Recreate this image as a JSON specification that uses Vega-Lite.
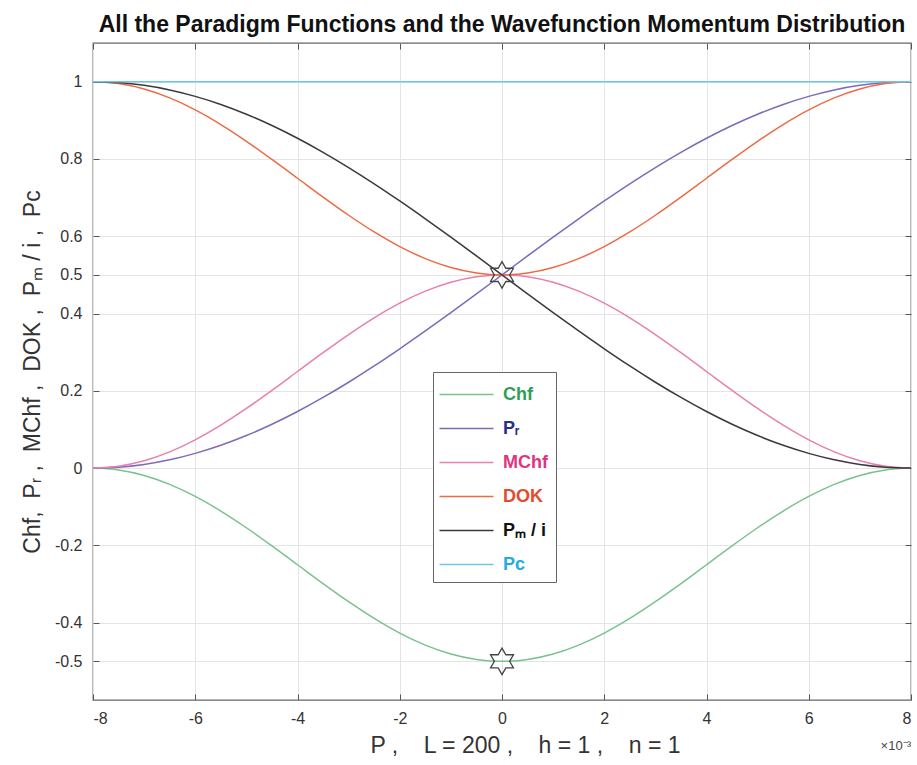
{
  "$schema": "https://vega.github.io/schema/vega-lite/v6.json",
  "width": 818,
  "height": 657,
  "autosize": {"type": "none"},
  "padding": {"left": 93, "top": 43, "right": 6, "bottom": 65},
  "background": "white",
  "title": {
    "text": "All the Paradigm Functions and the Wavefunction Momentum Distribution",
    "fontSize": 23,
    "fontWeight": "bold",
    "font": "Liberation Sans",
    "color": "#111111",
    "anchor": "middle",
    "offset": 6
  },
  "config": {
    "font": "Liberation Sans",
    "view": {"stroke": "#666666", "strokeWidth": 1.3},
    "axis": {
      "domain": false,
      "gridColor": "#e4e4e4",
      "gridWidth": 1,
      "tickColor": "#555555",
      "tickSize": -6,
      "labelFontSize": 16,
      "labelColor": "#333333",
      "titleFontSize": 23,
      "titleFontWeight": "normal",
      "titleColor": "#333333"
    }
  },
  "datasets": {
    "curves": [
      {"P":-0.008,"Chf":0,"Pr":0,"MChf":0,"DOK":1,"Pm":1,"Pc":1},
      {"P":-0.0075,"Chf":-0.0048,"Pr":0.0024,"MChf":0.0048,"DOK":0.9952,"Pm":0.9976,"Pc":1},
      {"P":-0.007,"Chf":-0.019,"Pr":0.0096,"MChf":0.019,"DOK":0.981,"Pm":0.9904,"Pc":1},
      {"P":-0.0065,"Chf":-0.0421,"Pr":0.0215,"MChf":0.0421,"DOK":0.9579,"Pm":0.9785,"Pc":1},
      {"P":-0.006,"Chf":-0.0732,"Pr":0.0381,"MChf":0.0732,"DOK":0.9268,"Pm":0.9619,"Pc":1},
      {"P":-0.0055,"Chf":-0.1111,"Pr":0.059,"MChf":0.1111,"DOK":0.8889,"Pm":0.941,"Pc":1},
      {"P":-0.005,"Chf":-0.1543,"Pr":0.0843,"MChf":0.1543,"DOK":0.8457,"Pm":0.9157,"Pc":1},
      {"P":-0.0045,"Chf":-0.2012,"Pr":0.1135,"MChf":0.2012,"DOK":0.7988,"Pm":0.8865,"Pc":1},
      {"P":-0.004,"Chf":-0.25,"Pr":0.1464,"MChf":0.25,"DOK":0.75,"Pm":0.8536,"Pc":1},
      {"P":-0.0035,"Chf":-0.2988,"Pr":0.1828,"MChf":0.2988,"DOK":0.7012,"Pm":0.8172,"Pc":1},
      {"P":-0.003,"Chf":-0.3457,"Pr":0.2222,"MChf":0.3457,"DOK":0.6543,"Pm":0.7778,"Pc":1},
      {"P":-0.0025,"Chf":-0.3889,"Pr":0.2643,"MChf":0.3889,"DOK":0.6111,"Pm":0.7357,"Pc":1},
      {"P":-0.002,"Chf":-0.4268,"Pr":0.3087,"MChf":0.4268,"DOK":0.5732,"Pm":0.6913,"Pc":1},
      {"P":-0.0015,"Chf":-0.4579,"Pr":0.3549,"MChf":0.4579,"DOK":0.5421,"Pm":0.6451,"Pc":1},
      {"P":-0.001,"Chf":-0.481,"Pr":0.4025,"MChf":0.481,"DOK":0.519,"Pm":0.5975,"Pc":1},
      {"P":-0.0005,"Chf":-0.4952,"Pr":0.451,"MChf":0.4952,"DOK":0.5048,"Pm":0.549,"Pc":1},
      {"P":0,"Chf":-0.5,"Pr":0.5,"MChf":0.5,"DOK":0.5,"Pm":0.5,"Pc":1},
      {"P":0.0005,"Chf":-0.4952,"Pr":0.549,"MChf":0.4952,"DOK":0.5048,"Pm":0.451,"Pc":1},
      {"P":0.001,"Chf":-0.481,"Pr":0.5975,"MChf":0.481,"DOK":0.519,"Pm":0.4025,"Pc":1},
      {"P":0.0015,"Chf":-0.4579,"Pr":0.6451,"MChf":0.4579,"DOK":0.5421,"Pm":0.3549,"Pc":1},
      {"P":0.002,"Chf":-0.4268,"Pr":0.6913,"MChf":0.4268,"DOK":0.5732,"Pm":0.3087,"Pc":1},
      {"P":0.0025,"Chf":-0.3889,"Pr":0.7357,"MChf":0.3889,"DOK":0.6111,"Pm":0.2643,"Pc":1},
      {"P":0.003,"Chf":-0.3457,"Pr":0.7778,"MChf":0.3457,"DOK":0.6543,"Pm":0.2222,"Pc":1},
      {"P":0.0035,"Chf":-0.2988,"Pr":0.8172,"MChf":0.2988,"DOK":0.7012,"Pm":0.1828,"Pc":1},
      {"P":0.004,"Chf":-0.25,"Pr":0.8536,"MChf":0.25,"DOK":0.75,"Pm":0.1464,"Pc":1},
      {"P":0.0045,"Chf":-0.2012,"Pr":0.8865,"MChf":0.2012,"DOK":0.7988,"Pm":0.1135,"Pc":1},
      {"P":0.005,"Chf":-0.1543,"Pr":0.9157,"MChf":0.1543,"DOK":0.8457,"Pm":0.0843,"Pc":1},
      {"P":0.0055,"Chf":-0.1111,"Pr":0.941,"MChf":0.1111,"DOK":0.8889,"Pm":0.059,"Pc":1},
      {"P":0.006,"Chf":-0.0732,"Pr":0.9619,"MChf":0.0732,"DOK":0.9268,"Pm":0.0381,"Pc":1},
      {"P":0.0065,"Chf":-0.0421,"Pr":0.9785,"MChf":0.0421,"DOK":0.9579,"Pm":0.0215,"Pc":1},
      {"P":0.007,"Chf":-0.019,"Pr":0.9904,"MChf":0.019,"DOK":0.981,"Pm":0.0096,"Pc":1},
      {"P":0.0075,"Chf":-0.0048,"Pr":0.9976,"MChf":0.0048,"DOK":0.9952,"Pm":0.0024,"Pc":1},
      {"P":0.008,"Chf":0,"Pr":1,"MChf":0,"DOK":1,"Pm":0,"Pc":1}
    ],
    "stars": [
      {"P": 0, "v": 0.5},
      {"P": 0, "v": -0.5}
    ],
    "note": [
      {"t": "×10⁻³"}
    ]
  },
  "layer": [
    {
      "data": {"name": "curves"},
      "transform": [
        {"fold": ["Chf", "Pr", "MChf", "DOK", "Pm", "Pc"], "as": ["series", "value"]}
      ],
      "mark": {"type": "line", "strokeWidth": 1.5, "interpolate": "monotone"},
      "encoding": {
        "x": {
          "field": "P",
          "type": "quantitative",
          "scale": {"domain": [-0.008, 0.008], "nice": false, "zero": false},
          "axis": {
            "values": [-0.008, -0.006, -0.004, -0.002, 0, 0.002, 0.004, 0.006, 0.008],
            "labelExpr": "'' + round(datum.value * 1000)",
            "grid": true,
            "labelPadding": 16,
            "title": "P ,\u00a0\u00a0\u00a0 L = 200 ,\u00a0\u00a0\u00a0 h = 1 ,\u00a0\u00a0\u00a0 n = 1",
            "titleX": 432,
            "titlePadding": 8
          }
        },
        "y": {
          "field": "value",
          "type": "quantitative",
          "scale": {"domain": [-0.6, 1.1], "nice": false, "zero": false},
          "axis": {
            "values": [-0.5, -0.4, -0.2, 0, 0.2, 0.4, 0.5, 0.6, 0.8, 1],
            "labelExpr": "'' + datum.value",
            "grid": true,
            "labelPadding": 17,
            "title": "Chf,\u00a0 Pᵣ ,\u00a0 MChf ,\u00a0 DOK ,\u00a0 Pₘ / i ,\u00a0 Pc",
            "titlePadding": 10
          }
        },
        "color": {
          "field": "series",
          "type": "nominal",
          "scale": {
            "domain": ["Chf", "Pr", "MChf", "DOK", "Pm", "Pc"],
            "range": ["#79c28e", "#7d6bb8", "#e87fb0", "#ec6a45", "#3a3a3a", "#6cc7ef"]
          },
          "legend": {
            "orient": "none",
            "legendX": 340,
            "legendY": 329,
            "title": null,
            "symbolType": "M-2,0H2",
            "symbolSize": 729,
            "symbolStrokeWidth": 1.5,
            "symbolOffset": 11,
            "labelOffset": 22,
            "labelFontSize": 18,
            "labelFontWeight": "bold",
            "labelFont": "Liberation Sans",
            "rowPadding": 10,
            "padding": 8,
            "strokeColor": "#666666",
            "fillColor": "white",
            "labelExpr": "datum.value === 'Pr' ? 'Pᵣ' : datum.value === 'Pm' ? 'Pₘ / i' : datum.value",
            "encode": {
              "labels": {
                "update": {
                  "fill": {"signal": "datum.value === 'Chf' ? '#2e9e58' : datum.value === 'Pr' ? '#2b2d8a' : datum.value === 'MChf' ? '#e0357f' : datum.value === 'DOK' ? '#e8482b' : datum.value === 'Pm' ? '#111111' : '#25aae1'"}
                }
              }
            }
          }
        }
      }
    },
    {
      "data": {"name": "stars"},
      "mark": {
        "type": "point",
        "shape": "M0,-1L0.289,-0.5L0.866,-0.5L0.577,0L0.866,0.5L0.289,0.5L0,1L-0.289,0.5L-0.866,0.5L-0.577,0L-0.866,-0.5L-0.289,-0.5Z",
        "size": 700,
        "filled": false,
        "stroke": "#444444",
        "strokeWidth": 1.3,
        "opacity": 1
      },
      "encoding": {
        "x": {
          "field": "P",
          "type": "quantitative",
          "axis": {
            "orient": "top",
            "values": [-0.008, -0.006, -0.004, -0.002, 0, 0.002, 0.004, 0.006, 0.008],
            "labels": false,
            "grid": false,
            "title": null
          }
        },
        "y": {
          "field": "v",
          "type": "quantitative",
          "axis": {
            "orient": "right",
            "values": [-0.5, -0.4, -0.2, 0, 0.2, 0.4, 0.5, 0.6, 0.8, 1],
            "labels": false,
            "grid": false,
            "title": null
          }
        }
      }
    },
    {
      "data": {"name": "note"},
      "mark": {"type": "text", "align": "right", "baseline": "alphabetic", "dy": 50, "fontSize": 13, "color": "#444444"},
      "encoding": {
        "x": {"datum": 0.008, "type": "quantitative", "axis": null},
        "y": {"datum": -0.6, "type": "quantitative", "axis": null},
        "text": {"field": "t"}
      }
    }
  ],
  "resolve": {"axis": {"x": "independent", "y": "independent"}}
}
